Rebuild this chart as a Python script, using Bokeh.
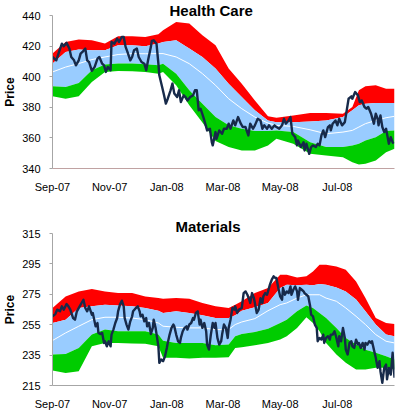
import pandas as pd
from bokeh.plotting import figure
from bokeh.models import Range1d, FixedTicker
from bokeh.layouts import column
from bokeh.embed import file_html
from bokeh.resources import INLINE

# ---------------- data ----------------
start_date = "2007-09-01"
end_date = "2008-08-31"
tick_months = ["2007-09-01", "2007-11-01", "2008-01-01", "2008-03-01", "2008-05-01", "2008-07-01"]
tick_labels = ["Sep-07", "Nov-07", "Jan-08", "Mar-08", "May-08", "Jul-08"]

hc_title = "Health Care"
hc_yticks = [340, 360, 380, 400, 420, 440]
hc_days = [0, 4, 7, 10, 12, 15, 18, 20, 23, 25, 28, 30, 32, 35, 37, 39, 42, 45, 48, 50, 53, 55, 57, 59, 62,
           63, 66, 69, 71, 74, 76, 78, 80, 83, 85, 87, 90, 92, 95, 98, 100, 102, 105, 106, 108, 111, 113, 114,
           117, 119, 121, 123, 126, 128, 130, 133, 135, 137, 140, 142, 144, 147, 150, 152, 154, 156, 158, 161,
           163, 165, 168, 170, 171, 174, 175, 178, 181, 183, 186, 188, 190, 193, 195, 198, 201, 203, 206, 209,
           211, 214, 216, 219, 222, 224, 226, 229, 231, 234, 237, 239, 242, 245, 247, 249, 252, 254, 256, 259,
           261, 262, 265, 268, 269, 271, 274, 276, 278, 281, 283, 285, 287, 289, 291, 294, 296, 297, 299, 302,
           304, 306, 309, 312, 314, 316, 319, 320, 323, 326, 328, 330, 333, 335, 337, 340, 341, 343, 345, 347,
           348, 350, 352, 354, 356, 357, 359, 361, 363, 364]
hc_price = [412.9, 410.7, 416.2, 421.6, 419.9, 422.1, 418.4, 412.9, 410.7, 407.4, 410.7, 415.1, 416.2, 418.4,
            410.7, 409.6, 403.8, 406.4, 411.8, 412.9, 408.5, 407.4, 403.1, 406.4, 404.2,
            422.7, 421.6, 424.9, 422.7, 426.0, 426.0, 419.5, 416.2, 410.7, 412.9, 417.3, 418.4, 412.9, 409.6,
            408.5, 404.2, 410.7, 419.5, 423.4, 423.8, 421.6, 408.5, 400.9,
            393.3, 388.0, 382.4, 385.6, 391.1, 395.5, 389.0, 386.7, 391.1, 383.4, 387.8, 386.7, 384.5, 386.7,
            387.8, 391.1, 391.1, 378.0, 379.1, 373.6,
            369.3, 364.9, 366.0, 357.2, 355.1, 363.8, 359.4, 364.9, 362.7, 366.0, 366.0, 369.3, 366.0, 371.4,
            368.2, 373.6, 369.3, 367.1, 367.1, 361.6,
            369.3, 366.0, 368.2, 372.5, 371.4, 366.0, 368.2, 366.0, 368.2, 366.0, 368.2, 367.1, 366.0, 368.2,
            372.5, 369.3, 371.4, 373.6, 362.7, 360.5,
            355.1, 358.3, 354.0, 357.2, 351.8, 356.2, 349.6, 354.0, 355.1, 354.0, 356.2, 355.1, 361.6, 364.9,
            360.5, 367.1, 368.2, 364.9, 369.3, 371.4,
            368.2, 372.5, 368.2, 370.3, 378.0, 385.6, 387.2, 385.6, 390.0, 387.8, 383.4, 384.5, 380.2, 379.1,
            380.2, 375.8, 373.6, 369.3, 375.8, 372.5,
            368.2, 374.7, 367.1, 363.8, 366.0, 362.7, 356.2, 360.5, 357.2, 356.2]
hc_band_days = [0, 14, 28, 42, 56, 70, 85, 99, 113, 118, 132, 146, 160, 174, 188, 202, 216, 230, 239, 257,
                275, 292, 310, 320, 327, 334, 345, 356, 365]
hc_red_top = [415.1, 422.7, 424.3, 423.8, 421.7, 426.4, 426.4, 426.0, 427.8, 430.4, 435.8, 434.7, 427.1,
              420.5, 405.3, 395.4, 384.5, 374.1, 373.2, 374.7, 376.2, 376.2, 375.8, 380.2, 391.1, 393.7,
              394.4, 392.2, 392.2]
hc_blue_top = [408.6, 416.2, 417.7, 417.3, 417.3, 420.6, 420.5, 419.9, 421.7, 422.7, 423.8, 418.4, 412.9,
               405.3, 395.4, 386.7, 378.0, 371.4, 370.3, 370.3, 370.8, 371.4, 373.6, 378.0, 381.3, 382.4,
               382.8, 382.8, 382.8]
hc_mid = [403.1, 406.3, 408.6, 411.2, 412.9, 414.5, 415.1, 415.0, 415.1, 415.1, 412.9, 408.5, 402.0, 394.4,
          385.6, 379.1, 373.6, 369.7, 368.2, 367.5, 365.3, 362.7, 363.8, 364.9, 367.1, 369.3, 371.4, 373.2,
          374.1]
hc_blue_bot = [393.7, 393.3, 395.9, 404.2, 407.9, 408.6, 408.6, 408.1, 407.5, 408.5, 402.0, 391.1, 382.4,
               373.6, 368.2, 366.0, 364.5, 364.5, 364.9, 363.8, 357.2, 354.0, 354.0, 355.1, 356.2, 358.3,
               360.5, 364.5, 364.9]
hc_green_bot = [387.2, 385.6, 387.2, 396.5, 403.1, 403.7, 403.5, 403.1, 402.0, 403.1, 394.4, 381.3, 370.0,
                358.0, 354.0, 351.8, 351.8, 355.1, 359.4, 356.2, 349.6, 348.5, 347.4, 344.1, 342.6, 343.1,
                345.2, 350.7, 352.9]

mat_title = "Materials"
mat_yticks = [215, 235, 255, 275, 295, 315]
mat_days = [0, 3, 5, 8, 10, 12, 15, 17, 19, 22, 24, 26, 29, 31, 33, 35, 37, 39, 42, 43, 46, 48, 49, 51, 53,
            55, 56, 58, 60, 62, 63, 65, 67, 69, 70, 72, 74, 76, 77, 79, 81, 83, 85, 86, 89, 91, 93, 94, 96, 98,
            100, 101, 103, 105, 107, 108, 110, 113, 114, 116, 118, 120, 122, 123, 125, 127, 129, 130, 132, 134,
            136, 137, 139, 141, 143, 144, 146, 148, 150, 151, 153, 155, 157, 158, 160, 162, 164, 165, 167, 169,
            171, 173, 174, 176, 178, 180, 181, 183, 185, 187, 188, 190, 192, 194, 195, 197, 199, 202, 204, 206,
            208, 210, 211, 213, 215, 217, 218, 220, 222, 224, 225, 227, 229, 231, 232, 234, 236, 238, 239, 241,
            243, 245, 246, 248, 250, 252, 254, 255, 257, 259, 261, 262, 264, 266, 268, 269, 271, 273, 275, 276,
            278, 280, 282, 283, 285, 287, 289, 290, 292, 294, 296, 297, 299, 301, 303, 305, 306, 308, 310, 312,
            313, 315, 317, 319, 320, 322, 324, 326, 327, 329, 331, 333, 334, 336, 338, 340, 341, 343, 345, 347,
            349, 350, 352, 354, 356, 357, 359, 361, 363, 364, 365]
mat_price = [260.5, 262.0, 264.9, 263.8, 267.1, 264.9, 268.6, 267.1, 264.9, 259.4, 258.3, 263.8, 267.1, 269.3,
             271.4, 266.0, 263.8, 267.1, 261.6, 262.7, 253.9, 256.1, 249.6, 248.9, 249.6,
             243.0, 244.1, 240.8, 244.1, 240.8, 248.5, 251.8, 256.1, 259.4, 263.8, 268.2, 270.8, 267.1, 259.4,
             255.1, 251.8, 257.2, 260.5, 263.8, 266.0, 267.1, 263.8, 260.5, 261.6, 257.2,
             259.4, 253.9, 256.1, 248.9, 252.9, 258.3, 252.9, 240.8, 229.9, 232.1, 231.0, 234.0, 239.7, 243.0,
             248.5, 252.9, 255.1, 253.9, 248.5, 244.1,
             243.0, 246.3, 250.7, 252.9, 253.9, 251.8, 255.1, 256.1, 259.4, 258.3, 262.7, 263.8, 255.1, 258.3,
             252.9, 256.1, 250.7, 241.9, 238.6, 248.5,
             256.1, 252.9, 256.1, 246.3, 241.9, 244.1, 248.5, 255.1, 252.9, 246.3, 252.9, 258.3, 266.0, 264.9,
             267.1, 262.7, 264.9, 266.0, 275.8, 276.9,
             274.7, 271.4, 269.3, 275.8, 272.5, 266.0, 262.7, 264.9, 272.5, 269.3, 273.6, 275.8, 274.7, 279.1,
             281.3, 284.6, 286.8, 285.7, 285.7, 279.1,
             273.6, 271.4, 279.1, 274.7, 276.9, 275.8, 280.2, 274.7, 278.0, 280.2, 276.9, 271.4, 279.1, 278.0,
             276.9, 275.8, 274.7, 273.6, 267.1, 261.6,
             260.5, 255.1, 252.9, 244.1, 246.3, 245.2, 248.5, 243.0, 246.3, 247.4, 245.2, 248.5, 248.5, 250.7,
             246.3, 240.8, 247.4, 244.1, 252.9, 246.3,
             238.6, 235.4, 243.0, 244.1, 240.8, 239.7, 245.2, 241.9, 243.0, 239.7, 243.0, 238.6, 243.0, 241.9,
             244.1, 243.0, 244.1, 238.6, 233.2, 226.6,
             231.0, 224.4, 216.8, 226.6, 228.8, 219.0, 226.6, 222.2, 236.5, 228.8, 220.1]
mat_band_days = [0, 14, 28, 42, 56, 70, 85, 99, 113, 118, 132, 146, 160, 174, 188, 195, 202, 216, 230, 243,
                 250, 261, 271, 278, 285, 292, 303, 313, 324, 334, 345, 356, 365]
mat_red_top = [266.0, 273.6, 276.9, 278.5, 276.9, 275.8, 275.8, 273.6, 272.5, 272.1, 272.5, 272.1, 269.3,
               267.1, 266.0, 268.2, 270.4, 275.8, 279.1, 287.9, 287.9, 286.1, 286.8, 290.0, 294.4, 294.4,
               293.3, 291.1, 283.5, 272.5, 259.4, 256.1, 255.5]
mat_blue_top = [256.1, 258.3, 266.0, 267.1, 268.2, 267.7, 267.1, 266.0, 264.2, 262.7, 263.8, 262.7, 261.2,
                259.4, 259.4, 261.2, 264.2, 266.4, 269.3, 279.1, 281.3, 280.9, 281.3, 280.9, 281.7, 281.3,
                279.5, 276.9, 271.5, 263.8, 255.1, 248.5, 247.4]
mat_mid = [244.6, 249.6, 254.0, 258.3, 259.9, 259.9, 259.4, 258.3, 256.1, 254.0, 253.3, 252.9, 252.9, 251.8,
           251.8, 255.1, 256.8, 259.0, 264.2, 268.2, 269.3, 272.5, 274.7, 274.7, 274.7, 272.5, 270.4, 266.0,
           260.5, 255.1, 248.5, 244.1, 243.0]
mat_blue_bot = [235.4, 235.8, 239.7, 248.5, 251.8, 250.7, 250.7, 250.7, 248.5, 244.5, 243.0, 243.0, 243.0,
                241.5, 241.9, 247.4, 248.9, 250.2, 252.4, 256.1, 258.3, 263.8, 267.7, 266.0, 262.7, 259.4,
                252.9, 246.3, 241.9, 238.6, 236.5, 234.3, 232.1]
mat_green_bot = [224.9, 223.3, 224.4, 240.8, 243.0, 243.0, 242.6, 242.4, 240.8, 233.2, 233.2, 232.7, 233.2,
                 233.2, 233.6, 239.7, 240.2, 241.5, 243.0, 245.2, 247.4, 252.9, 259.9, 256.1, 250.7, 243.0,
                 235.4, 229.9, 225.5, 225.5, 226.6, 226.6, 225.5]

# ---------------- drawing ----------------
t0 = pd.Timestamp(start_date)
x_span = (pd.Timestamp(end_date) - t0).days
tick_pos = [(pd.Timestamp(m) - t0).days for m in tick_months]

RED = "#ff0000"
BLUE = "#99ccff"
GREEN = "#00cc00"
NAVY = "#172a4a"
FONT = "Liberation Sans"
FIG_W = 400
BORDER_L = 48
BORDER_R = 6


def panel(title, title_offset, title_standoff, days, price, bdays, red_top, blue_top, mid, blue_bot,
          green_bot, yticks, height, top_border, bottom_border, xaxis_color):
    p = figure(width=FIG_W, height=height, output_backend="svg", toolbar_location=None,
               x_range=Range1d(0, x_span), y_range=Range1d(yticks[0], yticks[-1]),
               min_border_left=BORDER_L, min_border_right=BORDER_R,
               min_border_top=top_border, min_border_bottom=bottom_border)
    p.title.text = title
    p.title.text_font = FONT
    p.title.text_font_style = "bold"
    p.title.text_font_size = "15px"
    p.title.text_color = "#000000"
    p.title.align = "left"
    p.title.offset = title_offset
    p.title.standoff = title_standoff
    p.outline_line_color = None
    p.background_fill_color = "white"
    p.border_fill_color = "white"
    p.xgrid.visible = False
    p.ygrid.visible = False

    p.varea(x=bdays, y1=blue_top, y2=red_top, fill_color=RED)
    p.varea(x=bdays, y1=blue_bot, y2=blue_top, fill_color=BLUE)
    p.varea(x=bdays, y1=green_bot, y2=blue_bot, fill_color=GREEN)
    p.line(x=bdays, y=mid, line_color="white", line_width=1)
    p.line(x=days, y=price, line_color=NAVY, line_width=2.4, line_join="round")

    xa = p.xaxis[0]
    xa.ticker = FixedTicker(ticks=tick_pos)
    xa.major_label_overrides = {t: l for t, l in zip(tick_pos, tick_labels)}
    xa.major_tick_out = 0
    xa.major_tick_in = 0
    xa.minor_tick_out = 0
    xa.minor_tick_in = 0
    xa.axis_line_color = xaxis_color
    xa.major_label_text_font = FONT
    xa.major_label_text_font_size = "11px"
    xa.major_label_text_color = "#000000"
    xa.major_label_standoff = 12

    ya = p.yaxis[0]
    ya.ticker = FixedTicker(ticks=yticks)
    ya.major_tick_out = 3
    ya.major_tick_in = 0
    ya.minor_tick_out = 0
    ya.minor_tick_in = 0
    ya.axis_line_color = "#a6a6a6"
    ya.major_tick_line_color = "#a6a6a6"
    ya.major_label_text_font = FONT
    ya.major_label_text_font_size = "11px"
    ya.major_label_text_color = "#000000"
    ya.major_label_standoff = 9
    ya.axis_label = "Price"
    ya.axis_label_text_font = FONT
    ya.axis_label_text_font_style = "bold"
    ya.axis_label_text_font_size = "12px"
    ya.axis_label_text_color = "#000000"
    ya.axis_label_standoff = 2
    return p


p1 = panel(hc_title, 117, -6, hc_days, hc_price, hc_band_days, hc_red_top, hc_blue_top, hc_mid, hc_blue_bot,
           hc_green_bot, hc_yticks, 206, 15, 38, "#c0a2a2")
p2 = panel(mat_title, 123, -2, mat_days, mat_price, mat_band_days, mat_red_top, mat_blue_top, mat_mid,
           mat_blue_bot, mat_green_bot, mat_yticks, 206, 27, 26, "#a6a6a6")

layout = column(p1, p2, spacing=0)
open("out.html", "w").write(file_html(layout, INLINE))
